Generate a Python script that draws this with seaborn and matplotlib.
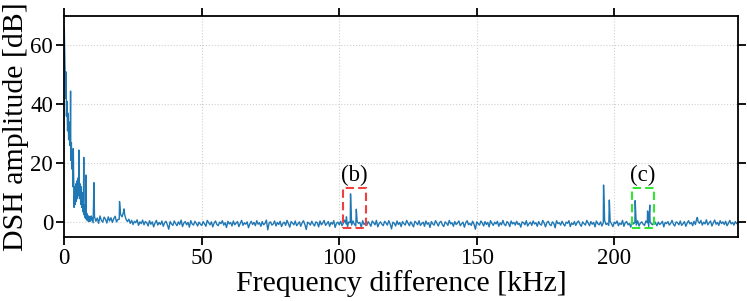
import numpy as np
import pandas as pd
import matplotlib
matplotlib.use('Agg')
import matplotlib.pyplot as plt
from matplotlib.patches import Rectangle
import seaborn as sns

# low-frequency part, 0 .. 9.8 kHz in 0.2 kHz steps
low_start, low_step = 0.0, 0.2
low_amp = [66, 56, 47, 42, 36, 41, 31, 37, 28, 34,
           26, 31, 21, 27, 18, 23, 12, 17, 5, 12,
           6, 13, 7, 14, 8, 15, 9, 16, 8, 13,
           6, 12, 5, 10, 3.5, 8, 2.5, 6, 1.5, 4,
           1.0, 3, 0.5, 2.2, 0.3, 2.0, 0.2, 1.8, 0.4, 2.1]

# noise floor, 10 .. 245 kHz in 0.5 kHz steps
base_start, base_step = 10.0, 0.5
base_amp = [
    1.6, -0.2, 1.9, 0.3, 1.4, -0.4, 2.1, 0.6, 0.0, 1.7, 1.0, -0.3, 1.8, 0.4, 1.5, -0.1, 1.2, 2.0, 0.1, 0.9,
    1.0, 2.6, 1.8, 3.2, 2.4, 0.9, 0.2, 1.0, -0.4, 0.6, -0.8, 0.3, -0.2, 0.8, -1.1, 0.1, -0.5, 0.7, -0.9, 0.2,
    -0.2, -1.3, 0.5, -0.7, 0.1, -1.6, -0.3, 0.6, -1.0, -0.1, -0.8, 0.4, -1.4, -0.2, 0.3, -0.9, -2.4, 0.2, -0.6, -1.1,
    0.4, -0.5, -1.2, 0.1, -0.8, 0.7, -1.5, -0.3, 0.2, -0.9, -0.1, -1.7, 0.5, -0.6, -1.0, 0.3, -0.4, -1.3, 0.0, -0.7,
    -1.1, 0.2, -0.5, -1.4, 0.6, -0.2, -0.9, 0.1, -1.6, -0.3, 0.4, -0.8, -1.2, 0.0, -0.5, 0.5, -1.0, -0.2, -1.8, 0.3,
    -0.6, -0.1, -1.3, 0.4, -0.9, -0.3, 0.2, -1.5, -0.4, 0.6, -1.1, -0.2, -0.7, 0.1, -1.9, -0.5, 0.3, -0.8, -0.1, -1.2,
    0.5, -0.7, -0.2, -1.4, 0.2, -0.9, -0.4, 0.7, -2.6, -0.3, 0.1, -1.0, -0.6, 0.4, -1.3, -0.1, -0.8, 0.3, -1.5, -0.4,
    0.0, -1.1, 0.6, -0.5, -1.7, 0.2, -0.3, -0.9, 0.4, -1.2, -0.6, 0.1, -1.4, -0.2, 0.5, -0.8, -2.5, 0.0, -0.4, -1.0,
    0.3, -0.6, -1.3, 0.1, -0.2, -1.6, 0.4, -0.9, -0.3, 0.6, -1.1, -0.5, 0.2, -1.4, -0.1, -0.7, 0.5, -1.8, -0.4, 0.0,
    -0.9, 0.3, -1.2, -0.3, 0.7, -0.6, -1.5, 0.1, -0.2, -1.0, 0.4, -0.7, -1.3, 0.2, -0.4, -0.1, -1.7, 0.5, -0.8, -0.3,
    -1.1, 0.2, -0.5, -1.4, 0.4, -0.2, -0.9, 0.6, -1.6, -0.4, 0.1, -0.7, -1.2, 0.3, -0.3, -1.0, 0.5, -0.6, -2.3, 0.0,
    -0.4, -1.3, 0.4, -0.8, -0.1, -1.5, 0.2, -0.5, -1.0, 0.6, -0.3, -1.2, 0.1, -0.7, -1.6, 0.3, -0.2, -0.9, 0.5, -1.1,
    -0.5, 0.0, -1.4, 0.4, -0.7, -0.2, -1.8, 0.2, -0.6, -1.0, 0.5, -0.3, -1.3, -0.1, 0.3, -0.9, -1.5, 0.1, -0.4, -1.1,
    0.6, -0.6, -0.2, -1.4, 0.2, -0.8, -0.3, 0.4, -1.2, -0.5, 0.0, -1.7, -0.2, 0.5, -0.9, -0.4, -1.1, 0.3, -0.7, -2.4,
    0.1, -0.5, -1.0, 0.4, -0.3, -1.3, 0.2, -0.8, -0.1, -1.6, 0.5, -0.4, -1.1, 0.0, -0.6, 0.3, -1.4, -0.2, -0.9, 0.6,
    -0.7, -1.2, 0.2, -0.3, -1.5, 0.4, -0.6, -0.1, -1.0, 0.3, -0.8, -0.4, -1.7, 0.1, -0.2, -0.9, 0.5, -1.3, -0.5, 0.0,
    -1.1, 0.4, -0.6, -0.2, -1.4, 0.2, -0.7, -1.0, 0.6, -0.3, -1.6, -0.1, 0.3, -0.8, -1.2, 0.1, -0.4, -1.9, 0.5, -0.5,
    -0.2, -1.0, 0.3, -0.6, -1.3, 0.0, -0.4, 0.5, -1.5, -0.3, -0.8, 0.2, -1.1, -0.1, 0.4, -0.7, -1.4, 0.1, -0.5, -1.0,
    0.6, -0.3, -1.2, 0.2, -0.7, -0.1, -1.6, 0.4, -0.5, -0.9, 0.1, -1.3, -0.2, 0.5, -0.8, -0.4, -1.1, 0.3, -0.6, -1.5,
    0.0, -0.5, 0.4, -1.2, -0.3, -0.8, 0.6, -1.4, -0.2, 0.2, -0.9, -0.4, -1.7, 0.3, -0.6, -0.1, -1.0, 0.5, -1.3, -0.3,
    0.1, -0.7, -1.1, 0.4, -0.2, -1.5, 0.2, -0.6, -0.9, 0.5, -0.3, -1.2, 0.0, -0.8, -0.4, 0.3, -1.6, -0.1, -0.5, 0.2,
    -1.0, -0.4, 0.6, -0.7, -1.3, 0.1, -0.2, -0.9, 0.4, -1.1, -0.5, 0.2, -1.4, -0.3, 0.5, -0.6, -0.1, -1.2, 0.3, -0.8,
    1.3, 0.2, -0.4, 0.6, -1.0, 0.0, -0.6, 0.8, -0.9, -0.2, 0.4, -1.3, -0.3, 0.7, -0.7, -0.1, -1.1, 0.5, -0.5, 0.1,
    -0.8, 0.3, -1.2, -0.4, 0.6, -0.6, -0.1, -1.0, 0.2, -0.5, 0.0,
]

# narrow spectral lines
spike_freq = [0.7, 2.3, 3.3, 5.3, 7.1, 7.9, 10.8, 20.1, 21.7,
              102.6, 104.1, 106.2, 196.1, 198.2, 207.6, 212.1, 212.9, 230.2]
spike_amp = [51, 44.5, 25, 24.5, 22, 16, 13.4, 7, 4.5,
             1.8, 9.6, 4.4, 12.6, 7.5, 7.3, 3.8, 5.8, 1.6]

# boxes and labels
box_labels = ['(b)', '(c)']
box_x0 = [101.5, 206.5]
box_x1 = [109.8, 214.5]
box_colors = ['#f04040', '#33e633']
box_y0, box_y1 = -2.0, 11.6

low_f = low_start + low_step * np.arange(len(low_amp))
base_f = base_start + base_step * np.arange(len(base_amp))
spec = pd.DataFrame({
    'freq': np.concatenate([low_f, base_f, spike_freq]),
    'amp': np.concatenate([low_amp, base_amp, spike_amp]),
}).sort_values('freq')

sns.set_style('whitegrid')
plt.rcParams['font.family'] = ['Liberation Serif', 'DejaVu Serif']
plt.rcParams['text.color'] = 'black'
plt.rcParams['axes.labelcolor'] = 'black'
plt.rcParams['xtick.color'] = 'black'
plt.rcParams['ytick.color'] = 'black'

fig, ax = plt.subplots(figsize=(7.47, 3.01), dpi=100)
fig.subplots_adjust(left=0.086, right=0.988, top=0.947, bottom=0.213)

sns.lineplot(data=spec, x='freq', y='amp', ax=ax, estimator=None, sort=False,
             color='#1f77b4', lw=1.0)

for lab, x0, x1, c in zip(box_labels, box_x0, box_x1, box_colors):
    ax.add_patch(Rectangle((x0, box_y0), x1 - x0, box_y1 - box_y0, fill=False,
                           ec=c, lw=1.5, ls=(0, (4, 2)), zorder=3))
    ax.text((x0 + x1) / 2, box_y1 + 0.8, lab, ha='center', va='bottom', fontsize=16.5)

ax.set_xlim(0, 245)
ax.set_ylim(-5, 70)
ax.set_xticks([0, 50, 100, 150, 200])
ax.set_yticks([0, 20, 40, 60])
ax.grid(True, color='#d0d0d0', ls=':', lw=0.8)
for s in ax.spines.values():
    s.set_color('black')
    s.set_linewidth(1.3)
ax.tick_params(which='both', direction='out', length=6, width=1.3, color='black',
               top=True, right=True, bottom=True, left=True, labelsize=16.5, pad=2)
ax.set_xlabel('Frequency difference [kHz]', fontsize=21.5, labelpad=1)
ax.set_ylabel('DSH amplitude [dB]', fontsize=21.5, labelpad=1)

fig.savefig('out.png', dpi=100)
